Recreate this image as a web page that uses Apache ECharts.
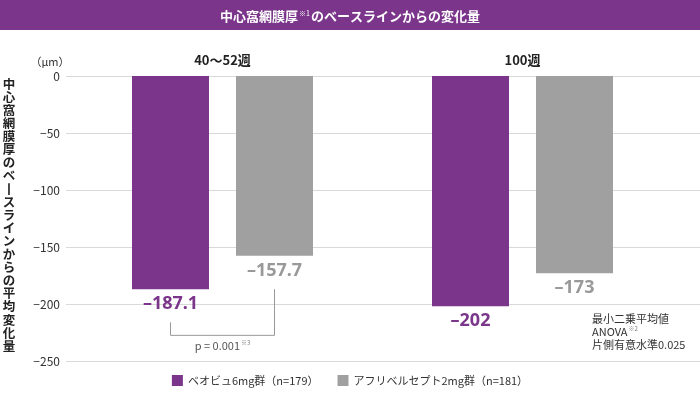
<!DOCTYPE html>
<html>
<head>
<meta charset="utf-8">
<script src="https://cdn.jsdelivr.net/npm/echarts@6/dist/echarts.min.js"></script>
<style>
  html, body { margin: 0; padding: 0; background: #fff; }
  #chart { width: 700px; height: 398px; }
</style>
</head>
<body>
<div id="chart"></div>
<script>
// データ
const categories = ['40〜52週', '100週'];
const seriesNames = ['ベオビュ6mg群（n=179）', 'アフリベルセプト2mg群（n=181）'];
const beovuValues = [-187.1, -202];
const afliberceptValues = [-157.7, -173];
const yTicks = { min: -250, max: 0, interval: 50 };
const noteLines = ['最小二乗平均値', 'ANOVA', '片側有意水準0.025'];
const pValueText = 'p = 0.001';

const PURPLE = '#7b368b';
const GRAY = '#a0a0a0';
const FONT = '"Noto Sans CJK JP", "Noto Sans", sans-serif';
const BAR_W = 77;
const BAR_GAP = 27;

const yTitle = '中心窩網膜厚のベースラインからの平均変化量'.split('').map(c => c === 'ー' ? '丨' : c).join('\n');

let chart = echarts.init(document.getElementById('chart'));

function valLabel(color) {
  return {
    show: true,
    position: 'bottom',
    distance: 6,
    fontSize: 18,
    fontWeight: 'bold',
    fontFamily: '"Noto Sans", sans-serif',
    color: color,
    formatter: p => '–' + Math.abs(p.value)
  };
}

chart.setOption({
  animation: false,
  textStyle: { fontFamily: FONT },
  grid: [
    { left: 66, right: 0, top: 76, bottom: 37 },
    { left: 72.5, right: 27.5, top: 76, bottom: 37 }
  ],
  xAxis: [
    { gridIndex: 0, type: 'value', show: false },
    {
      gridIndex: 1,
      type: 'category',
      position: 'top',
      data: categories,
      axisLine: { show: false },
      axisTick: { show: false },
      axisLabel: { margin: 9, fontSize: 13, fontWeight: 'bold', color: '#222' }
    }
  ],
  yAxis: [
    {
      gridIndex: 0,
      type: 'value',
      min: yTicks.min, max: yTicks.max, interval: yTicks.interval,
      axisLine: { show: false },
      axisTick: { show: false },
      axisLabel: {
        margin: 6, fontSize: 12, color: '#333',
        formatter: v => v < 0 ? '−' + Math.abs(v) : String(v)
      },
      splitLine: { lineStyle: { color: '#d9d9d9', width: 1 } }
    },
    {
      gridIndex: 1,
      type: 'value',
      min: yTicks.min, max: yTicks.max, interval: yTicks.interval,
      show: false,
      splitLine: { show: false }
    }
  ],
  legend: {
    bottom: 7,
    left: 'center',
    itemWidth: 11,
    itemHeight: 11,
    itemGap: 19,
    icon: 'rect',
    textStyle: { fontSize: 11, color: '#333', fontFamily: FONT },
    data: seriesNames
  },
  series: [
    {
      name: seriesNames[0], type: 'bar', xAxisIndex: 1, yAxisIndex: 1,
      data: beovuValues, barWidth: BAR_W, barGap: (BAR_GAP / BAR_W * 100) + '%',
      itemStyle: { color: PURPLE },
      label: valLabel(PURPLE)
    },
    {
      name: seriesNames[1], type: 'bar', xAxisIndex: 1, yAxisIndex: 1,
      data: afliberceptValues, barWidth: BAR_W,
      itemStyle: { color: GRAY },
      label: valLabel('#999')
    }
  ]
});

// 注釈（ブラケットなど）
const c0 = chart.convertToPixel({ xAxisIndex: 1 }, categories[0]);
const off = (BAR_W + BAR_GAP) / 2;
const yPx = v => chart.convertToPixel({ yAxisIndex: 1 }, v);
const supStyle = { fontSize: 6, fill: '#777', fontFamily: FONT, verticalAlign: 'top', padding: [0, 0, 5, 1] };

chart.setOption({
  graphic: [
    { type: 'rect', shape: { x: 0, y: 0, width: 700, height: 30 }, style: { fill: PURPLE } },
    {
      type: 'text', x: 350, y: 16,
      style: {
        text: '{t|中心窩網膜厚}{s|※1}{t|のベースラインからの変化量}',
        align: 'center', verticalAlign: 'middle',
        rich: {
          t: { fontSize: 13, fontWeight: 'bold', fill: '#fff', fontFamily: FONT },
          s: { fontSize: 7, fill: '#fff', fontFamily: FONT, verticalAlign: 'top', padding: [0, 1, 6, 1] }
        }
      }
    },
    {
      type: 'text', x: 50, y: 62,
      style: { text: '（μm）', align: 'center', verticalAlign: 'middle', fontSize: 11, fill: '#333', fontFamily: FONT }
    },
    {
      type: 'text', x: 9, y: 215,
      style: {
        text: yTitle, align: 'center', verticalAlign: 'middle',
        fontSize: 12.5, lineHeight: 13.1, fontWeight: 'bold', fill: '#222', fontFamily: FONT
      }
    },
    {
      type: 'polyline',
      shape: {
        points: [
          [c0 - off, yPx(-216)], [c0 - off, yPx(-227.5)],
          [c0 + off, yPx(-227.5)], [c0 + off, yPx(-187)]
        ]
      },
      style: { stroke: '#999', lineWidth: 1, fill: null }
    },
    {
      type: 'text', x: c0, y: yPx(-236.5),
      style: {
        text: '{a|' + pValueText + '}{s|※3}',
        align: 'center', verticalAlign: 'middle',
        rich: {
          a: { fontSize: 11, fill: '#555', fontFamily: FONT },
          s: supStyle
        }
      }
    },
    {
      type: 'text', x: 592, y: 332,
      style: {
        text: '{n|' + noteLines[0] + '}\n{n|' + noteLines[1] + '}{s|※2}\n{n|' + noteLines[2] + '}',
        align: 'left', verticalAlign: 'middle',
        rich: {
          n: { fontSize: 11, lineHeight: 13, fill: '#333', fontFamily: FONT },
          s: supStyle
        }
      }
    }
  ]
});
</script>
</body>
</html>
